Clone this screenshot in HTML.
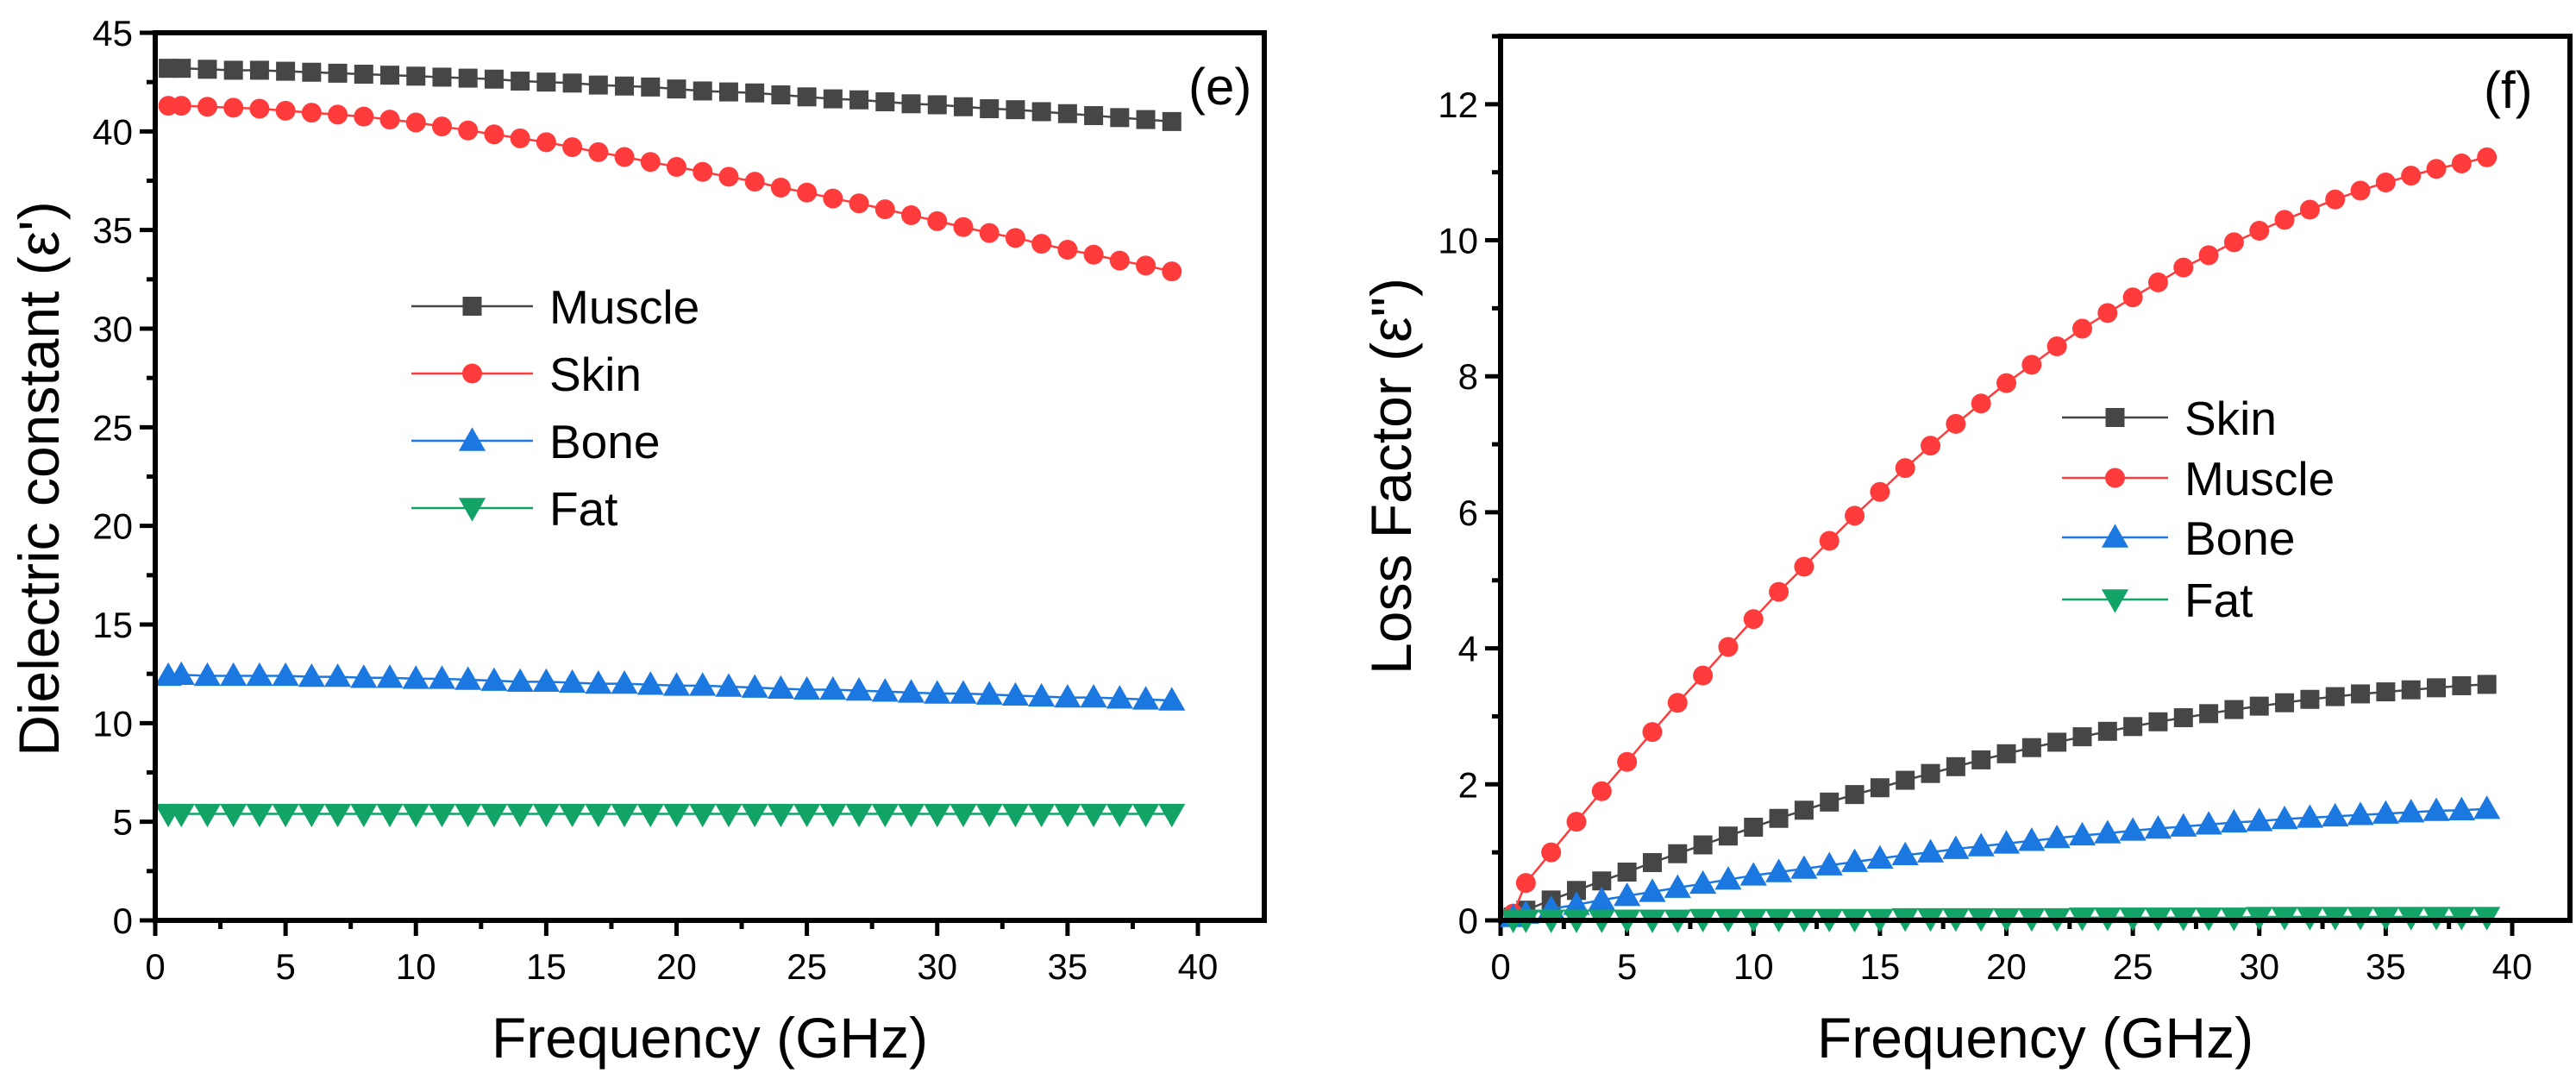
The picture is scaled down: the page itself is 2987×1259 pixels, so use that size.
<!DOCTYPE html>
<html><head><meta charset="utf-8"><style>
html,body{margin:0;padding:0;background:#fff}
svg{display:block;font-family:"Liberation Sans",Arial,sans-serif}
</style></head><body>
<svg id="chart" width="2987" height="1259" viewBox="0 0 2987 1259" xmlns="http://www.w3.org/2000/svg"></svg>
<script>
const freq=[0.5,1,2,3,4,5,6,7,8,9,10,11,12,13,14,15,16,17,18,19,20,21,22,23,24,25,26,27,28,29,30,31,32,33,34,35,36,37,38,39];
const eMuscle=[43.2,43.2,43.15,43.1,43.1,43.05,43.0,42.95,42.9,42.85,42.8,42.75,42.7,42.65,42.55,42.5,42.45,42.35,42.3,42.25,42.15,42.05,42.0,41.95,41.85,41.75,41.65,41.6,41.5,41.4,41.35,41.25,41.15,41.1,41.0,40.9,40.8,40.7,40.6,40.5];
const eSkin=[41.3,41.3,41.25,41.2,41.15,41.05,40.95,40.85,40.75,40.6,40.45,40.25,40.05,39.85,39.65,39.45,39.2,38.95,38.7,38.45,38.2,37.95,37.7,37.45,37.15,36.9,36.6,36.35,36.05,35.75,35.45,35.15,34.85,34.6,34.3,34.0,33.75,33.45,33.2,32.9];
const eBone=[12.4,12.45,12.4,12.4,12.4,12.4,12.35,12.35,12.3,12.3,12.25,12.25,12.2,12.15,12.1,12.1,12.05,12.0,12.0,11.95,11.9,11.9,11.85,11.8,11.75,11.7,11.7,11.65,11.6,11.55,11.5,11.5,11.45,11.4,11.35,11.3,11.3,11.25,11.2,11.15];
const eFat=[5.4,5.4,5.4,5.4,5.4,5.4,5.4,5.4,5.4,5.4,5.4,5.4,5.4,5.4,5.4,5.4,5.4,5.4,5.4,5.4,5.4,5.4,5.4,5.4,5.4,5.4,5.4,5.4,5.4,5.4,5.4,5.4,5.4,5.4,5.4,5.4,5.4,5.4,5.4,5.4];
const lSkin=[0.05,0.15,0.3,0.44,0.58,0.71,0.85,0.98,1.11,1.24,1.37,1.5,1.62,1.74,1.85,1.95,2.06,2.16,2.26,2.36,2.45,2.54,2.62,2.7,2.78,2.85,2.92,2.98,3.04,3.1,3.15,3.2,3.25,3.29,3.33,3.36,3.39,3.42,3.45,3.47];
const lMuscle=[0.1,0.55,1.0,1.45,1.9,2.33,2.77,3.2,3.6,4.02,4.43,4.83,5.2,5.58,5.95,6.3,6.65,6.98,7.3,7.6,7.9,8.17,8.44,8.7,8.93,9.16,9.38,9.6,9.78,9.97,10.14,10.3,10.45,10.6,10.73,10.85,10.95,11.05,11.13,11.22];
const lBone=[0.05,0.1,0.17,0.23,0.3,0.36,0.42,0.48,0.54,0.6,0.66,0.71,0.76,0.81,0.86,0.91,0.96,1.0,1.05,1.09,1.13,1.17,1.21,1.25,1.28,1.32,1.35,1.38,1.41,1.44,1.46,1.49,1.51,1.53,1.55,1.57,1.59,1.61,1.62,1.64];
const lFat=[0.01,0.01,0.01,0.01,0.01,0.01,0.01,0.01,0.02,0.02,0.02,0.02,0.02,0.02,0.02,0.02,0.03,0.03,0.03,0.03,0.03,0.03,0.03,0.04,0.04,0.04,0.04,0.04,0.04,0.04,0.05,0.05,0.05,0.05,0.05,0.05,0.05,0.05,0.05,0.05];
const xTicks=[0,5,10,15,20,25,30,35,40];
const yTicksE=[0,5,10,15,20,25,30,35,40,45];
const yTicksF=[0,2,4,6,8,10,12];

const NS="http://www.w3.org/2000/svg";
const svg=document.getElementById('chart');
function mk(tag,attrs,parent,text){const e=document.createElementNS(NS,tag);for(const k in attrs)e.setAttribute(k,attrs[k]);if(text!==undefined)e.textContent=text;(parent||svg).appendChild(e);return e;}
const C={dark:'#464646',red:'#ff3b3b',blue:'#1a78e0',green:'#12a366'};

function marker(g,type,x,y,color,s){
  let m;
  if(type==='square'){m=mk('rect',{x:x-s/2,y:y-s/2,width:s,height:s,fill:color},g);}
  else if(type==='circle'){m=mk('circle',{cx:x,cy:y,r:s/2,fill:color},g);}
  else if(type==='up'){m=mk('polygon',{points:`${x},${y-s*0.6} ${x-s*0.6},${y+s*0.45} ${x+s*0.6},${y+s*0.45}`,fill:color},g);}
  else {m=mk('polygon',{points:`${x},${y+s*0.6} ${x-s*0.6},${y-s*0.45} ${x+s*0.6},${y-s*0.45}`,fill:color},g);}
  return m;
}

function panel(cfg){
  const g=mk('g',{});
  
  
  const sx=v=>cfg.x0+(v-0)/(40-0)*(cfg.x40-cfg.x0);
  const sy=v=>cfg.yb-(v/cfg.ymax)*(cfg.yb-cfg.yt);
  const tk=mk('g',{stroke:'#000','stroke-width':5},g);
  
  
  xTicks.forEach((t,i)=>{
    mk('line',{x1:sx(t),x2:sx(t),y1:cfg.yb,y2:cfg.yb+18},tk);
    if(i<xTicks.length-1){const mt=t+2.5;mk('line',{x1:sx(mt),x2:sx(mt),y1:cfg.yb,y2:cfg.yb+10},tk);}
    const lb=mk('text',{x:sx(t),y:cfg.yb+68,'font-size':42,'text-anchor':'middle',fill:'#000',stroke:'none'},g,String(t));
    
    
  });
  const step=cfg.yTicks[1]-cfg.yTicks[0];
  cfg.yTicks.forEach((t,i)=>{
    mk('line',{x1:cfg.x0-18,x2:cfg.x0,y1:sy(t),y2:sy(t)},tk);
    const mt=t+step/2;if(mt<=cfg.ymax)mk('line',{x1:cfg.x0-10,x2:cfg.x0,y1:sy(mt),y2:sy(mt)},tk);
    const lb=mk('text',{x:cfg.x0-26,y:sy(t)+15,'font-size':42,'text-anchor':'end',fill:'#000'},g,String(t));
    
    
  });
  cfg.series.forEach(s=>{
    const sg=mk('g',{},g);
    
    
    const pts=freq.map((f,i)=>sx(f)+','+sy(s.data[i])).join(' ');
    mk('polyline',{points:pts,fill:'none',stroke:s.color,'stroke-width':2.5},sg);
    freq.forEach((f,i)=>{
      const m=marker(sg,s.type,sx(f),sy(s.data[i]),s.color,s.size);
      
      
    });
  });
  const fr=mk('rect',{x:cfg.x0,y:cfg.yt,width:cfg.xr-cfg.x0,height:cfg.yb-cfg.yt,fill:'none',stroke:'#000','stroke-width':6},g);
  
  
  const lg=mk('g',{},g);
  
  
  cfg.legend.forEach((s,i)=>{
    const y=cfg.leg.y[i];
    const e=mk('g',{},lg);
    
    
    mk('line',{x1:cfg.leg.x1,x2:cfg.leg.x2,y1:y,y2:y,stroke:s.color,'stroke-width':2.5},e);
    marker(e,s.type,(cfg.leg.x1+cfg.leg.x2)/2,y,s.color,s.size);
    mk('text',{x:cfg.leg.tx,y:y+20,'font-size':55,fill:'#000'},e,s.label);
  });
  const pl=mk('text',{x:cfg.tagX,y:cfg.tagY,'font-size':60,fill:'#000'},g,cfg.tag);
  
  
  const xt=mk('text',{x:(cfg.x0+cfg.xr)/2,y:1226,'font-size':66,'text-anchor':'middle',fill:'#000'},g,'Frequency (GHz)');
  
  
  const yt=mk('text',{x:0,y:0,'font-size':66,'text-anchor':'middle',fill:'#000',transform:`translate(${cfg.ytX},${cfg.ytY}) rotate(-90)`},g,cfg.ytitle);
  
  
}

const sq={type:'square',size:22},ci={type:'circle',size:23},up={type:'up',size:26},dn={type:'down',size:26};
panel({name:'panel-e-dielectric-constant',x0:180,x40:1389,xr:1466,yt:38,yb:1067,ymax:45,yTicks:yTicksE,
  series:[{label:'Muscle',data:eMuscle,color:C.dark,...sq},{label:'Skin',data:eSkin,color:C.red,...ci},{label:'Bone',data:eBone,color:C.blue,...up},{label:'Fat',data:eFat,color:C.green,...dn}],
  legend:[{label:'Muscle',color:C.dark,...sq},{label:'Skin',color:C.red,...ci},{label:'Bone',color:C.blue,...up},{label:'Fat',color:C.green,...dn}],
  leg:{x1:477,x2:618,tx:637,y:[355,433,511,589]},tag:'(e)',tagX:1378,tagY:121,
  ytitle:"Dielectric constant (ε')",ytX:68,ytY:555});
panel({name:'panel-f-loss-factor',x0:1740,x40:2913,xr:2980,yt:42,yb:1067,ymax:13,yTicks:yTicksF,
  series:[{label:'Skin',data:lSkin,color:C.dark,...sq},{label:'Muscle',data:lMuscle,color:C.red,...ci},{label:'Bone',data:lBone,color:C.blue,...up},{label:'Fat',data:lFat,color:C.green,...dn}],
  legend:[{label:'Skin',color:C.dark,...sq},{label:'Muscle',color:C.red,...ci},{label:'Bone',color:C.blue,...up},{label:'Fat',color:C.green,...dn}],
  leg:{x1:2391,x2:2514,tx:2533,y:[484,554,623,695]},tag:'(f)',tagX:2880,tagY:125,
  ytitle:'Loss Factor (ε")',ytX:1636,ytY:552});
</script>
</body></html>
